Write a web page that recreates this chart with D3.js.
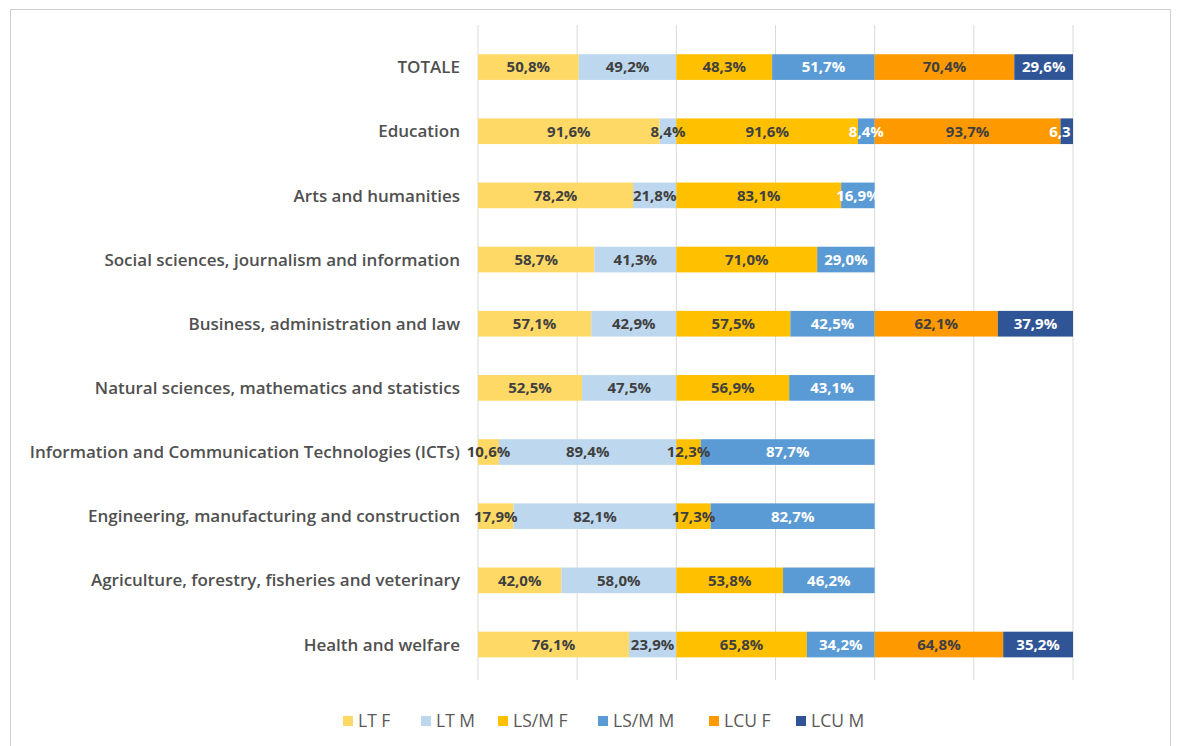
<!DOCTYPE html>
<html>
<head>
<meta charset="utf-8">
<script src="https://cdn.jsdelivr.net/npm/d3@7"></script>
<style>
  body { margin: 0; background: #fff; }
  svg { font-family: "Open Sans", "Noto Sans", sans-serif; }
</style>
</head>
<body>
<div id="chart"></div>
<script>
// categories, top to bottom
const categories = [
    'TOTALE',
    'Education',
    'Arts and humanities',
    'Social sciences, journalism and information',
    'Business, administration and law',
    'Natural sciences, mathematics and statistics',
    'Information and Communication Technologies (ICTs)',
    'Engineering, manufacturing and construction',
    'Agriculture, forestry, fisheries and veterinary',
    'Health and welfare'
];

const seriesNames = ['LT F', 'LT M', 'LS/M F', 'LS/M M', 'LCU F', 'LCU M'];

// series values (null = no bar)
const ltF   = [50.8, 91.6, 78.2, 58.7, 57.1, 52.5, 10.6, 17.9, 42.0, 76.1];
const ltM   = [49.2,  8.4, 21.8, 41.3, 42.9, 47.5, 89.4, 82.1, 58.0, 23.9];
const lsmF  = [48.3, 91.6, 83.1, 71.0, 57.5, 56.9, 12.3, 17.3, 53.8, 65.8];
const lsmM  = [51.7,  8.4, 16.9, 29.0, 42.5, 43.1, 87.7, 82.7, 46.2, 34.2];
const lcuF  = [70.4, 93.7, null, null, 62.1, null, null, null, null, 64.8];
const lcuM  = [29.6,  6.3, null, null, 37.9, null, null, null, null, 35.2];

const gridTicks = [0, 50, 100, 150, 200, 250, 300];

const colors = ['#ffd966', '#bdd7ee', '#ffc000', '#5b9bd5', '#ff9900', '#2f5597'];
const labelColors = ['#404040', '#404040', '#404040', '#ffffff', '#404040', '#ffffff'];

const width = 1181, height = 746;

const svg = d3.select('#chart').append('svg')
    .attr('width', width)
    .attr('height', height);

// frame
svg.append('rect')
    .attr('x', 10.5).attr('y', 9.5)
    .attr('width', 1160).attr('height', 760)
    .attr('fill', '#fff')
    .attr('stroke', '#d0d0d0');

const x = d3.scaleLinear().domain([0, 300]).range([478, 1073]);
const y = d3.scaleBand().domain(categories).range([35, 676.6])
    .paddingInner(0.6).paddingOuter(0.3);

// gridlines
svg.append('g')
    .selectAll('line')
    .data(gridTicks)
    .enter()
    .append('line')
    .attr('x1', d => x(d)).attr('x2', d => x(d))
    .attr('y1', 25).attr('y2', 680)
    .attr('stroke', '#d9d9d9')
    .attr('stroke-width', 1);

// build segments
const allSeries = [ltF, ltM, lsmF, lsmM, lcuF, lcuM];
const segments = [];
categories.forEach(function (cat, i) {
    let start = 0;
    allSeries.forEach(function (s, j) {
        const v = s[i];
        // each F/M pair fills its own 100% block
        if (j % 2 === 0) start = (j / 2) * 100;
        if (v == null) return;
        segments.push({cat: cat, k: j, v: v, x0: start, x1: start + v});
        start += v;
    });
});

svg.append('g')
    .selectAll('rect')
    .data(segments)
    .enter()
    .append('rect')
    .attr('x', d => x(d.x0))
    .attr('width', d => x(d.x1) - x(d.x0))
    .attr('y', d => y(d.cat))
    .attr('height', y.bandwidth())
    .attr('fill', d => colors[d.k]);

// clip labels at the plot's right edge
svg.append('clipPath').attr('id', 'plotClip')
    .append('rect').attr('x', 0).attr('y', 0).attr('width', 1071).attr('height', height);

svg.append('g')
    .attr('clip-path', 'url(#plotClip)')
    .selectAll('text')
    .data(segments)
    .enter()
    .append('text')
    .attr('x', d => (x(d.x0) + x(d.x1)) / 2)
    .attr('y', d => y(d.cat) + y.bandwidth() / 2)
    .attr('dy', '0.36em')
    .attr('text-anchor', 'middle')
    .style('font-size', '15px')
    .style('font-weight', 'bold')
    .style('fill', d => labelColors[d.k])
    .text(d => d.v.toFixed(1).replace('.', ',') + '%');

// category labels
svg.append('g')
    .selectAll('text')
    .data(categories)
    .enter()
    .append('text')
    .attr('x', 460)
    .attr('y', d => y(d) + y.bandwidth() / 2)
    .attr('dy', '0.36em')
    .attr('text-anchor', 'end')
    .style('font-size', '17px')
    .style('font-weight', 600)
    .style('fill', '#505050')
    .text(d => d);

// legend
const legendX = [343, 421, 498, 598, 709, 796];
const legend = svg.append('g')
    .selectAll('g')
    .data(seriesNames)
    .enter()
    .append('g')
    .attr('transform', (d, i) => 'translate(' + legendX[i] + ',721)');

legend.append('rect')
    .attr('x', 0).attr('y', -5)
    .attr('width', 10).attr('height', 10)
    .attr('fill', (d, i) => colors[i]);

legend.append('text')
    .attr('x', 15)
    .attr('dy', '0.36em')
    .style('font-size', '17.5px')
    .style('fill', '#595959')
    .text(d => d);
</script>
</body>
</html>
